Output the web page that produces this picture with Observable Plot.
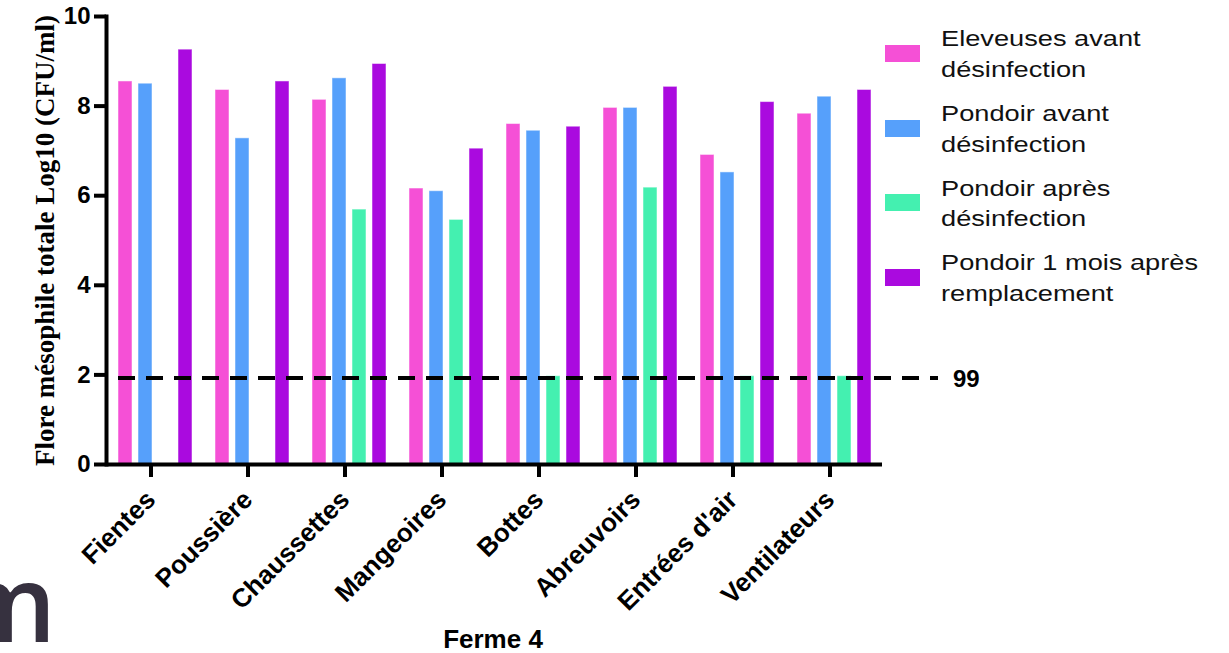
<!DOCTYPE html>
<html>
<head>
<meta charset="utf-8">
<script src="https://cdn.jsdelivr.net/npm/d3@7"></script>
<script src="https://cdn.jsdelivr.net/npm/@observablehq/plot@0.6"></script>
<style>
  html, body { margin: 0; padding: 0; background: #fff; }
  #wrap { position: relative; width: 1229px; height: 653px; overflow: hidden; font-family: "Liberation Sans", Arial, sans-serif; }
  #chart svg { display: block; }
  .legend { position: absolute; left: 885px; top: 0; }
  .item { position: absolute; left: 0; width: 340px; height: 70px; }
  .sw { position: absolute; left: 0; width: 35px; height: 17px; }
  .lab { position: absolute; left: 56px; font-size: 22.3px; line-height: 30.5px; color: #111; white-space: nowrap; transform: scaleX(1.22); transform-origin: 0 0; }
  .logo { position: absolute; left: -45px; top: 536px; font-family: "Open Sans", sans-serif; font-weight: 600; font-size: 106px; line-height: 130px; color: #36313f; }
</style>
</head>
<body>
<div id="wrap">
  <div id="chart"></div>
  <div class="legend" id="legend"></div>
  <div class="logo">m</div>
</div>
<script>
// ---- data ----
const categories = ["Fientes", "Poussière", "Chaussettes", "Mangeoires", "Bottes", "Abreuvoirs", "Entrées d'air", "Ventilateurs"];
const seriesNames = ["Eleveuses avant désinfection", "Pondoir avant désinfection", "Pondoir après désinfection", "Pondoir 1 mois après remplacement"];
const seriesLines = [["Eleveuses avant", "désinfection"], ["Pondoir avant", "désinfection"], ["Pondoir après", "désinfection"], ["Pondoir 1 mois après", "remplacement"]];
const seriesColors = ["#f550d6", "#56a0fb", "#44f0b0", "#aa0adf"];
const eleveusesAvant = [8.55, 8.36, 8.14, 6.16, 7.60, 7.96, 6.91, 7.83];
const pondoirAvant   = [8.50, 7.28, 8.62, 6.10, 7.45, 7.96, 6.52, 8.21];
const pondoirApres   = [null, null, 5.69, 5.46, 1.97, 6.18, 1.97, 1.97];
const pondoir1Mois   = [9.26, 8.55, 8.94, 7.05, 7.54, 8.43, 8.09, 8.36];
const yTicks = [0, 2, 4, 6, 8, 10];
const threshold = 1.92;
const thresholdLabel = "99";
const yTitle = "Flore mésophile totale Log10 (CFU/ml)";
const xTitle = "Ferme 4";

const seriesValues = [eleveusesAvant, pondoirAvant, pondoirApres, pondoir1Mois];
const rows = [];
categories.forEach((c, i) => {
  seriesNames.forEach((s, k) => {
    const v = seriesValues[k][i];
    if (v != null) rows.push({cat: c, series: s, value: v});
  });
});

const chart = Plot.plot({
  width: 1229,
  height: 653,
  marginTop: 16,
  marginBottom: 189,
  marginLeft: 105,
  marginRight: 347,
  style: {fontFamily: "'Liberation Sans', Arial, sans-serif", color: "#000", background: "#fff", overflow: "visible"},
  fx: {domain: categories, padding: 0, label: null},
  x: {domain: seriesNames, paddingInner: 0.32, paddingOuter: 0.52, axis: null},
  y: {domain: [0, 10], axis: null},
  color: {domain: seriesNames, range: seriesColors},
  marks: [
    Plot.barY(rows, {fx: "cat", x: "series", y: "value", fill: "series", stroke: "#fff", strokeOpacity: 0.5, strokeWidth: 1}),
    Plot.ruleY([0], {stroke: "#000", strokeWidth: 4}),
    Plot.frame({anchor: "left", stroke: "#000", strokeWidth: 4, facetAnchor: "left"}),
    Plot.axisY({ticks: yTicks, tickSize: 12, tickPadding: 4, strokeWidth: 4, fontSize: 24, fontWeight: "bold", label: null}),
    Plot.axisFx({anchor: "bottom", tickSize: 13, tickPadding: 18, strokeWidth: 4, tickRotate: -45, fontSize: 26, fontWeight: "bold", dx: -4, label: null}),
    Plot.text([yTitle], {frameAnchor: "left", facetAnchor: "left", rotate: -90, dx: -61, fontFamily: "'Liberation Serif', 'Times New Roman', serif", fontWeight: "bold", fontSize: 27, textAnchor: "middle"})
  ]
});
document.getElementById("chart").appendChild(chart);

// threshold rule, its label and the x title, placed with the plot's own scales
const svg = d3.select(chart);
const yS = chart.scale("y");
const fxS = chart.scale("fx");
const yPix = yS.apply(threshold);
const fx0 = fxS.range[0];
svg.append("line")
  .attr("x1", fx0 + 13).attr("x2", fx0 + 833)
  .attr("y1", yPix).attr("y2", yPix)
  .attr("stroke", "#000").attr("stroke-width", 4).attr("stroke-dasharray", "17 11");
svg.append("text")
  .attr("x", fx0 + 848).attr("y", yPix + 9)
  .attr("text-anchor", "start")
  .attr("font-size", 24).attr("font-weight", "bold").attr("fill", "#000")
  .text(thresholdLabel);
svg.append("text")
  .attr("x", fx0 + 388).attr("y", 648)
  .attr("text-anchor", "middle")
  .attr("font-size", 26).attr("font-weight", "bold").attr("fill", "#000")
  .text(xTitle);

// legend
const legend = document.getElementById("legend");
seriesNames.forEach((s, k) => {
  const item = document.createElement("div");
  item.className = "item";
  item.style.top = (24.4 + 74.6 * k) + "px";
  const sw = document.createElement("div");
  sw.className = "sw";
  sw.style.background = seriesColors[k];
  sw.style.top = "20.8px";
  const lab = document.createElement("div");
  lab.className = "lab";
  lab.style.top = "0px";
  lab.innerHTML = seriesLines[k].join("<br>");
  item.appendChild(sw);
  item.appendChild(lab);
  legend.appendChild(item);
});
</script>
</body>
</html>
